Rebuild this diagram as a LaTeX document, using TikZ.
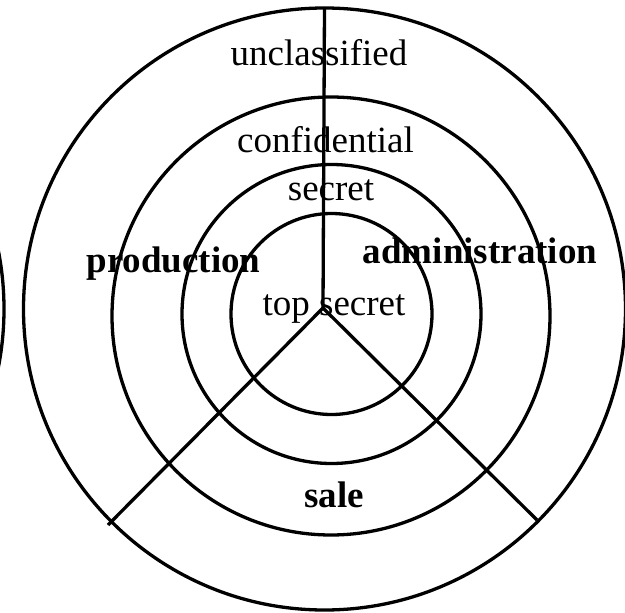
\documentclass[tikz,border=0pt]{standalone}
\usepackage{fontspec}
\setmainfont{Liberation Serif}
\begin{document}
\begin{tikzpicture}[x=1pt,y=-1pt,
  ring/.style={line width=3.3pt},
  spoke/.style={line width=3.3pt},
  level/.style={font=\fontsize{37}{40}\selectfont, inner sep=0pt, anchor=base},
  dept/.style={font=\fontsize{37}{40}\selectfont\bfseries, inner sep=0pt, anchor=base}]
\useasboundingbox (0,0) rectangle (625,613);
\begin{scope}
\clip (0,0) rectangle (625,613);
% neighbouring ring at the left edge
\draw[ring] (-297,309) circle (301);
% security levels
\draw[ring] (324.5,309) circle (301);
\draw[ring] (331,316) circle (219);
\draw[ring] (331.5,314) circle (149.5);
\draw[ring] (331.5,314) circle (100.5);
\end{scope}
% department boundaries
\coordinate (hub) at (323,308);
\coordinate (top) at (324.5,7);
\coordinate (sw) at (108,525);
\coordinate (se) at (537,520);
\draw[spoke] (top) -- (hub);
\draw[spoke] (hub) -- (sw);
\draw[spoke] (hub) -- (se);
% level labels
\node[level] (unc) at (319,65) {unclassified};
\node[level] (conf) at (325.5,152) {confidential};
\node[level] (sec) at (331,200) {secret};
\node[level] (ts) at (334,315) {top secret};
% department labels
\node[dept] (prod) at (173.5,272) {production};
\node[dept] (adm) at (480,263) {administration};
\node[dept] (sale) at (334,507) {sale};
\end{tikzpicture}
\end{document}
